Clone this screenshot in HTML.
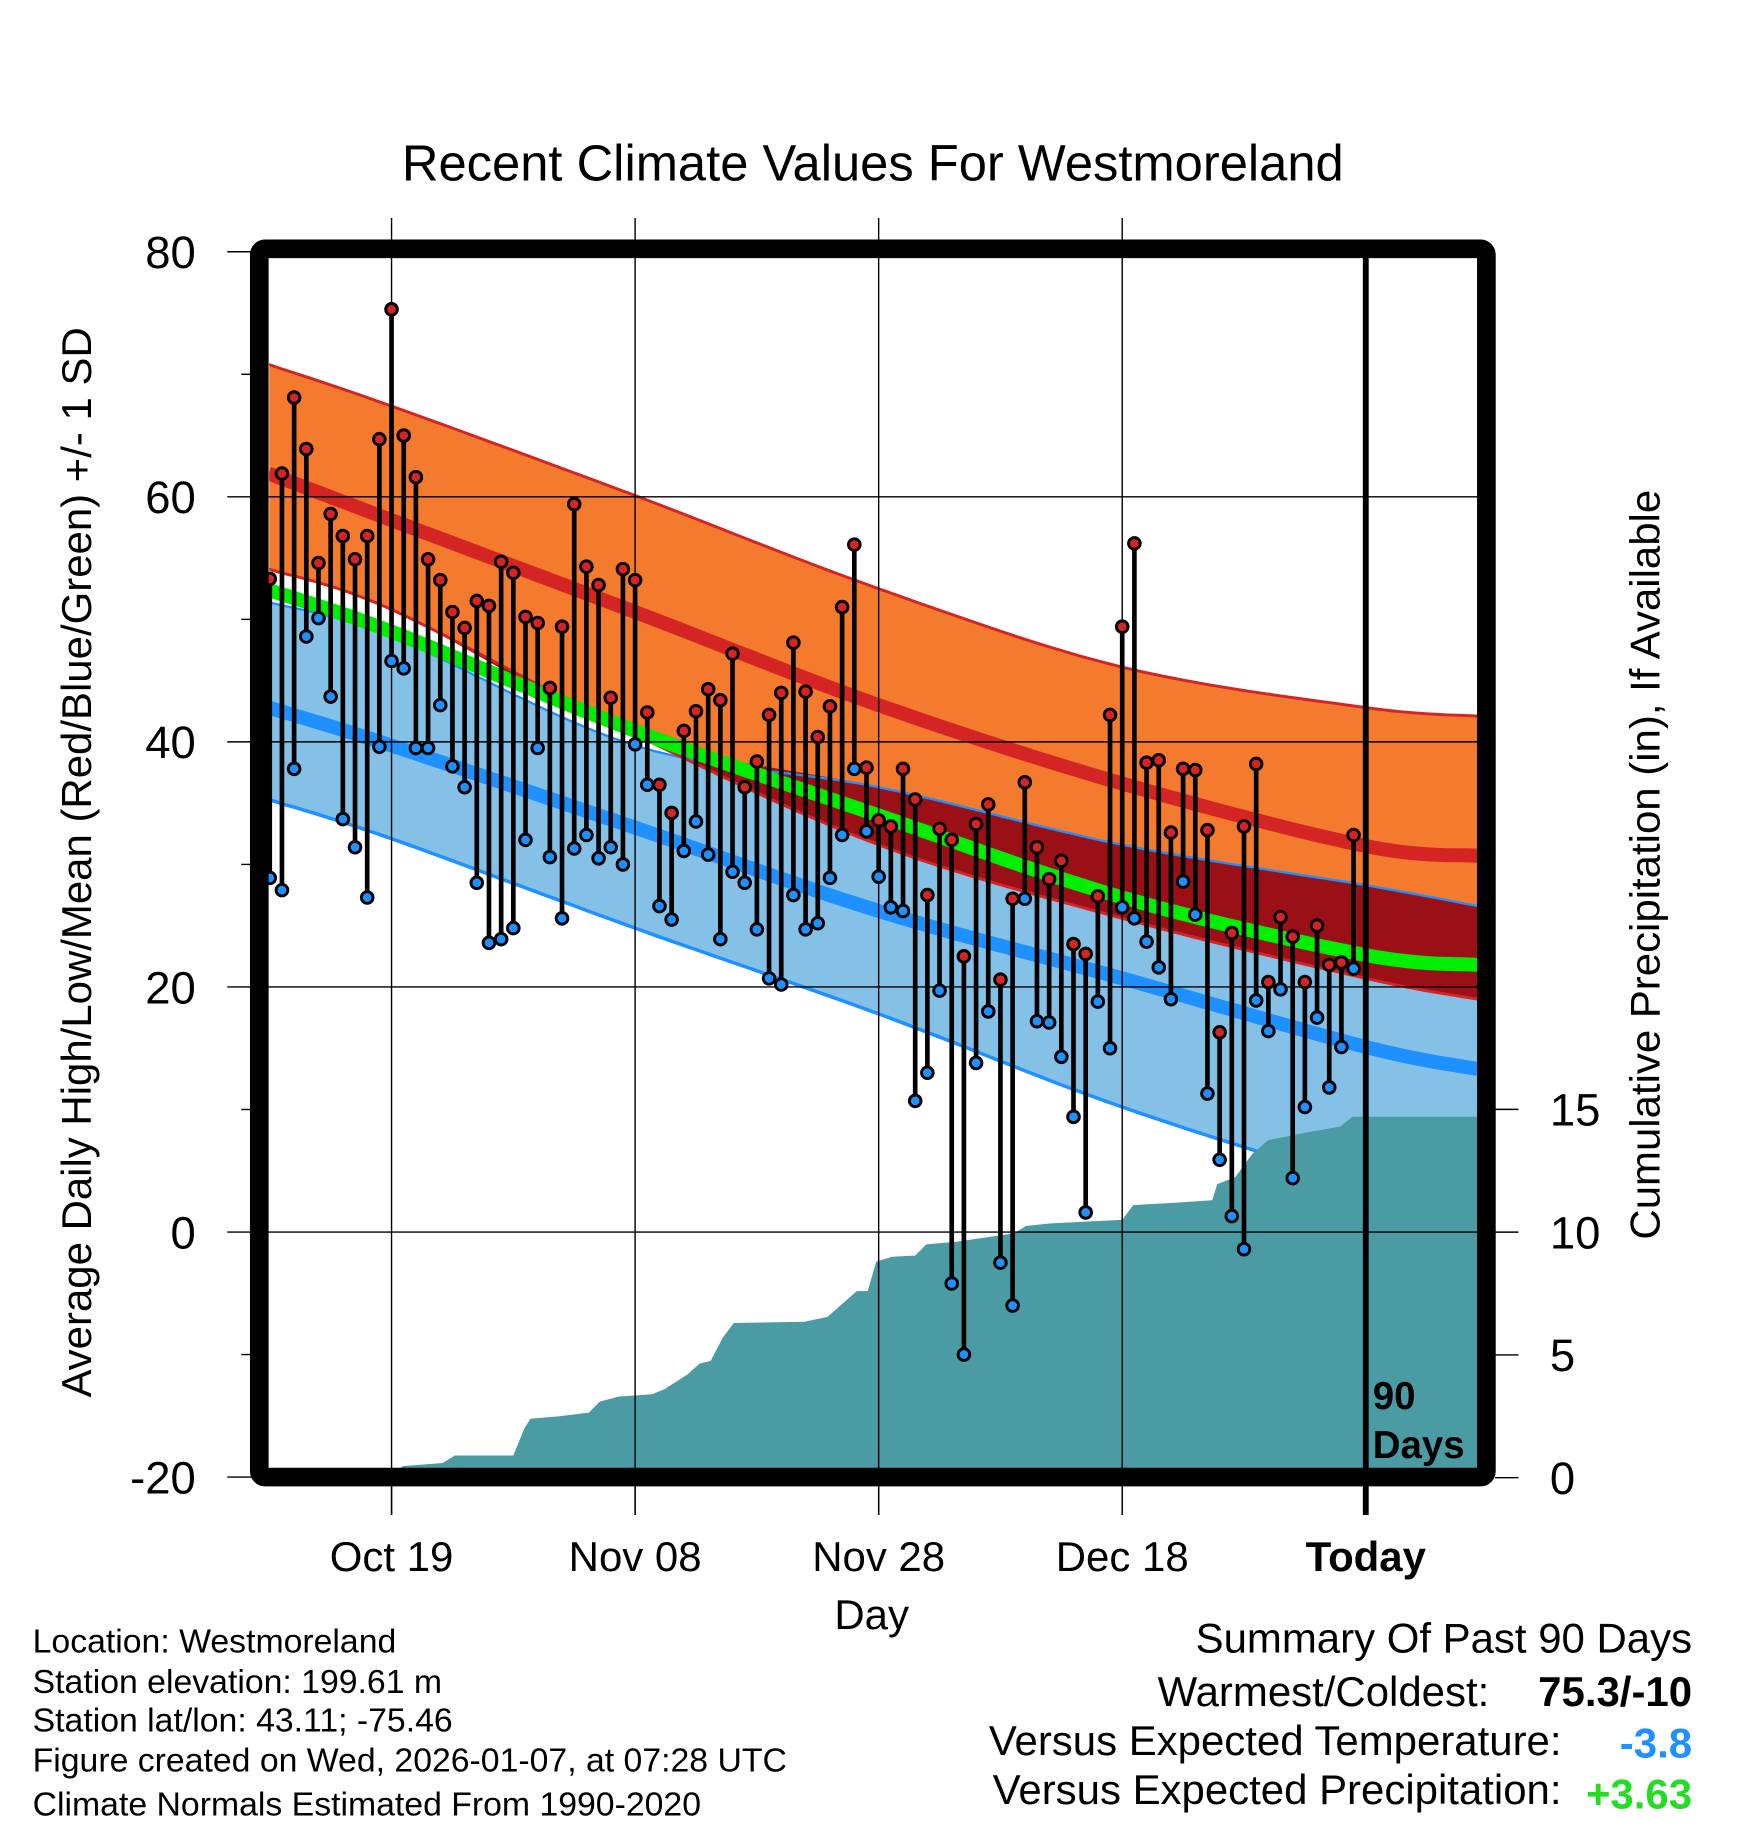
<!DOCTYPE html>
<html><head><meta charset="utf-8">
<style>
html,body{margin:0;padding:0;background:#fff;}
svg{display:block;font-family:"Liberation Sans",Arial,sans-serif;}
</style></head>
<body>
<svg id="chart" width="1748" height="1828" viewBox="0 0 1500 1568.6" xmlns="http://www.w3.org/2000/svg">
<rect x="0" y="0" width="1500" height="1568.6" fill="#fff"/>
<text x="749" y="155" font-size="43.5" text-anchor="middle">Recent Climate Values For Westmoreland</text>
<g id="plot"></g>
<text transform="translate(78,740) rotate(-90)" font-size="36" text-anchor="middle">Average Daily High/Low/Mean (Red/Blue/Green) +/- 1 SD</text>
<text transform="translate(1424,742) rotate(-90)" font-size="36" text-anchor="middle">Cumulative Precipitation (in), If Available</text>
<text x="748" y="1398" font-size="36" text-anchor="middle">Day</text>
<g font-size="29">
<text x="28" y="1418">Location: Westmoreland</text>
<text x="28" y="1453">Station elevation: 199.61 m</text>
<text x="28" y="1486">Station lat/lon: 43.11; -75.46</text>
<text x="28" y="1520">Figure created on Wed, 2026-01-07, at 07:28 UTC</text>
<text x="28" y="1558">Climate Normals Estimated From 1990-2020</text>
</g>
<g font-size="36">
<text x="1452" y="1418" text-anchor="end">Summary Of Past 90 Days</text>
<text x="1278" y="1464" text-anchor="end">Warmest/Coldest:</text>
<text x="1452" y="1464" text-anchor="end" font-weight="bold">75.3/-10</text>
<text x="1340" y="1506" text-anchor="end">Versus Expected Temperature:</text>
<text x="1452" y="1508" text-anchor="end" font-weight="bold" fill="#1e90ff">-3.8</text>
<text x="1340" y="1548" text-anchor="end">Versus Expected Precipitation:</text>
<text x="1452" y="1552" text-anchor="end" font-weight="bold" fill="#22dd22">+3.63</text>
</g>
</svg>
<script>
// ---- data ----
const highs = [53.3,61.9,68.1,63.9,54.6,58.6,56.8,54.9,56.8,64.7,75.3,65.0,61.6,54.9,53.2,50.6,49.3,51.5,51.1,54.7,53.8,50.2,49.7,44.4,49.4,59.4,54.3,52.8,43.6,54.1,53.2,42.4,36.5,34.2,40.9,42.5,44.3,43.4,47.2,36.3,38.4,42.2,44.0,48.1,44.1,40.4,42.9,51.0,56.1,37.9,33.6,33.1,37.8,35.3,27.5,32.9,32.0,22.5,33.3,34.9,20.6,27.2,36.7,31.4,28.8,30.3,23.5,22.7,27.4,42.2,49.4,56.2,38.3,38.5,32.6,37.8,37.7,32.8,16.3,24.4,33.1,38.2,20.4,25.7,24.1,20.4,25.0,21.8,22.0,32.4];
const lows = [28.9,27.9,37.8,48.6,50.1,43.7,33.7,31.4,27.3,39.6,46.6,46.0,39.5,39.5,43.0,38.0,36.3,28.5,23.6,23.9,24.8,32.0,39.5,30.6,25.6,31.3,32.4,30.5,31.4,30.0,39.8,36.5,26.6,25.5,31.1,33.5,30.8,23.9,29.4,28.5,24.7,20.7,20.2,27.5,24.7,25.2,28.9,32.4,37.8,32.7,29.0,26.5,26.2,10.7,13.0,19.7,-4.2,-10.0,13.8,18.0,-2.5,-6.0,27.2,17.2,17.1,14.3,9.4,1.6,18.8,15.0,26.5,25.6,23.7,21.6,19.0,28.6,25.9,11.3,5.9,1.3,-1.4,18.9,16.4,19.8,4.4,10.2,17.5,11.8,15.1,21.5];
// normals at days-before-today
const normDays = [90.1,80,60,40,20,0,-9.2];
const highPlusSD = [70.8,67.4,60.1,52.5,46.1,42.8,42.1];
const highMean = [61.9,58.1,50.6,43.0,36.6,31.5,30.7];
const highMinusSD = [54.1,50.8,40.6,31.6,25.6,20.7,19.0];
const lowPlusSD = [51.4,48.6,39.7,36.3,31.6,28.3,26.6];
const lowMean = [42.8,39.7,33.0,26.2,20.7,15.1,13.3];
const lowMinusSD = [35.3,32.1,24.8,17.8,10.2,4.0,2.6];
const meanNormal = [52.4,49.0,40.9,34.0,27.3,22.6,21.8];
// cumulative precipitation
const precipDays = [90.1,80,79.1,75.8,74.8,70,69.1,68.6,66.2,63.8,62.9,61.4,58.6,57.6,55.7,54.7,53.8,52.8,51.9,46.1,44.2,41.8,40.9,40.2,38.9,37,36.1,33.7,28.9,27.9,26,22.2,20,19.1,15.5,12.6,12.2,10.7,9.3,8,6.4,5,2.1,1.1,0,-9.2];
const precipCum = [0,0,0.47,0.6,0.9,0.9,2.0,2.4,2.5,2.65,3.1,3.3,3.4,3.6,4.2,4.65,4.75,5.7,6.3,6.35,6.55,7.6,7.6,8.8,9.0,9.05,9.5,9.6,9.95,10.25,10.35,10.45,10.5,11.1,11.2,11.3,11.95,12.25,13.2,13.75,13.9,14.05,14.3,14.7,14.7,14.7];
const yTicks = [80,60,40,20,0,-20];
const y2Ticks = [0,5,10,15];
const xTickLabels = ["Oct 19","Nov 08","Nov 28","Dec 18","Today"];
const xTickDays = [80,60,40,20,0];

// ---- axes ----
const X0=1172, DX=10.45;
const x = d => X0 - d*DX;
const y = v => 216 + (80-v)*10.515;
const yp = p => 1268 - p*21.07;
const L=231, R=1268, T=222, B=1261;
const NS="http://www.w3.org/2000/svg";
const plot=document.getElementById('plot');
function mk(tag, attrs, parent){const e=document.createElementNS(NS,tag);for(const k in attrs)e.setAttribute(k,attrs[k]);(parent||plot).appendChild(e);return e;}
// smooth (Catmull-Rom) sampling of a normal curve
function smooth(vals){
  const out=[];const n=normDays.length;
  for(let i=0;i<n-1;i++){
    const p0=vals[Math.max(i-1,0)],p1=vals[i],p2=vals[i+1],p3=vals[Math.min(i+2,n-1)];
    const d0=normDays[Math.max(i-1,0)],d1=normDays[i],d2=normDays[i+1],d3=normDays[Math.min(i+2,n-1)];
    const steps=12;
    for(let s=0;s<steps;s++){
      const t=s/steps,t2=t*t,t3=t2*t;
      const f=(a,b,c,d)=>0.5*((2*b)+(-a+c)*t+(2*a-5*b+4*c-d)*t2+(-a+3*b-3*c+d)*t3);
      out.push([f(d0,d1,d2,d3),f(p0,p1,p2,p3)]);
    }
  }
  out.push([normDays[n-1],vals[n-1]]);
  return out;
}
const sp=arr=>arr.map(p=>x(p[0]).toFixed(1)+','+y(p[1]).toFixed(1));
function band(upper,lower,fill,name){
  const p=sp(smooth(upper)).concat(sp(smooth(lower)).reverse());
  const e=mk('polygon',{points:p.join(' '),fill:fill});
  
  
  return e;
}
function line(vals,stroke,w,name){
  const e=mk('polyline',{points:sp(smooth(vals)).join(' '),fill:'none',stroke:stroke,'stroke-width':w,'stroke-linejoin':'round'});
  
  
  return e;
}
const cp=mk('clipPath',{id:'clip'});mk('rect',{x:L,y:T,width:R-L,height:B-T},cp);
const g=mk('g',{'clip-path':'url(#clip)'});
plot.appendChild(g);
function inG(e){g.appendChild(e);return e;}
inG(band(highPlusSD,highMinusSD,'#f47a2e','high-sd-band'));
inG(line(highPlusSD,'#d42424',2.5,'high-plus-sd-line'));
inG(band(lowPlusSD,lowMinusSD,'#85c1e6','low-sd-band'));
{const ov=[];for(let i=0;i<normDays.length;i++){ov.push(Math.max(lowPlusSD[i],highMinusSD[i]));}
 inG(band(ov,highMinusSD,'#9b1016','overlap-band'));}
inG(line(lowMinusSD,'#1e90ff',3,'low-minus-sd-line'));
inG(line(lowPlusSD,'#1e90ff',2,'low-plus-sd-line'));
inG(line(highMinusSD,'#d42424',2.5,'high-minus-sd-line'));
inG(line(meanNormal,'#00ee00',12,'mean-normal-line'));
inG(line(highMean,'#d42424',12,'high-mean-line'));
inG(line(lowMean,'#1e90ff',12,'low-mean-line'));
{const p=precipDays.map((d,i)=>x(d).toFixed(1)+','+yp(precipCum[i]).toFixed(1));
 p.push(x(-9.2)+','+(B+5));p.push(x(90.1)+','+(B+5));
 const e=inG(mk('polygon',{points:p.join(' '),fill:'#4a9ba3'}));
 
 }
xTickDays.slice(0,4).forEach(d=>{const e=mk('line',{x1:x(d),x2:x(d),y1:187,y2:1300,stroke:'#000','stroke-width':1.2});
 
 });
yTicks.forEach(v=>{const e=mk('line',{x1:195,x2:R,y1:y(v),y2:y(v),stroke:'#000','stroke-width':1.2});
 
 });
[70,50,30,10,-10].forEach(v=>{const e=mk('line',{x1:207,x2:215,y1:y(v),y2:y(v),stroke:'#000','stroke-width':1.2});
 
 });
for(let i=0;i<highs.length;i++){
  const d=90-i, xx=x(d);
  const s=mk('line',{x1:xx,x2:xx,y1:y(highs[i]),y2:y(lows[i]),stroke:'#000','stroke-width':4});
  
  
}
for(let i=0;i<highs.length;i++){
  const d=90-i, xx=x(d);
  const h=mk('circle',{cx:xx,cy:y(highs[i]),r:5,fill:'#d42424',stroke:'#000','stroke-width':2.5});
  
  
  const l=mk('circle',{cx:xx,cy:y(lows[i]),r:5,fill:'#1e90ff',stroke:'#000','stroke-width':2.5});
  
  
}
{const e=mk('line',{x1:x(0),x2:x(0),y1:210,y2:1300,stroke:'#000','stroke-width':5});
 
 }
{const t=mk('text',{x:1178,y:1209,'font-size':33,'font-weight':'bold'});t.textContent='90';
 
 
 const t2=mk('text',{x:1178,y:1251,'font-size':33,'font-weight':'bold'});t2.textContent='Days';
 
 }
{const e=mk('rect',{x:222.5,y:213.5,width:1053,height:1054,rx:5,fill:'none',stroke:'#000','stroke-width':16});
 
 }
yTicks.forEach(v=>{const t=mk('text',{x:168,y:y(v)+14,'font-size':39,'text-anchor':'end'});t.textContent=v;
 
 });
y2Ticks.forEach(p=>{const e=mk('line',{x1:1283,x2:1303,y1:yp(p),y2:yp(p),stroke:'#000','stroke-width':1.2});
 
 
 const t=mk('text',{x:1330,y:yp(p)+14,'font-size':39});t.textContent=p;
 
 });
xTickDays.forEach((d,i)=>{const e=mk('line',{x1:x(d),x2:x(d),y1:1275,y2:1300,stroke:'#000','stroke-width':1.2});
 
 
 const t=mk('text',{x:x(d),y:1348,'font-size':36,'text-anchor':'middle','font-weight':d===0?'bold':'normal'});t.textContent=xTickLabels[i];
 
 });
</script>
</body></html>
